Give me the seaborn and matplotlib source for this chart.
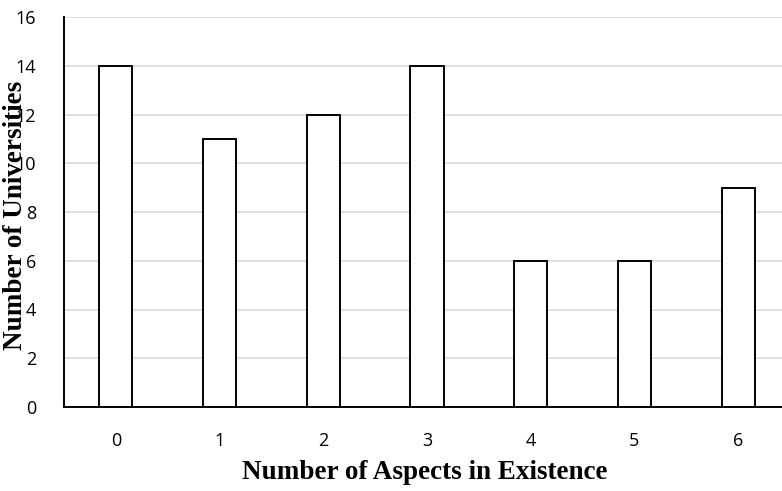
import matplotlib
matplotlib.use("Agg")
import matplotlib.pyplot as plt
import seaborn as sns
import pandas as pd

categories = ["0", "1", "2", "3", "4", "5", "6"]
universities = [14, 11, 12, 14, 6, 6, 9]
y_ticks = [0, 2, 4, 6, 8, 10, 12, 14, 16]

sns.set_theme(style="white")
plt.rcParams['font.family'] = ['Open Sans', 'DejaVu Sans']
plt.rcParams['text.color'] = 'black'
plt.rcParams['axes.labelcolor'] = 'black'
plt.rcParams['xtick.color'] = 'black'
plt.rcParams['ytick.color'] = 'black'

df = pd.DataFrame({"aspects": categories, "count": universities})

fig = plt.figure(figsize=(7.82, 4.91), dpi=100)
ax = fig.add_axes([64/782, 84/491, 726/782, 390/491])

sns.barplot(data=df, x="aspects", y="count", color="white", edgecolor="black",
            linewidth=1.4, width=0.32, ax=ax, zorder=3, saturation=1)

ax.set_ylim(0, 16)
ax.set_xlim(-0.5, 6.5)
ax.set_yticks(y_ticks)
ax.set_yticklabels([str(t) for t in y_ticks], fontsize=13)
ax.tick_params(axis="x", labelsize=13, length=0, pad=18)
ax.tick_params(axis="y", length=0, pad=20)
ax.grid(axis="y", color="#d9d9d9", linewidth=1.2, zorder=0)
ax.set_axisbelow(True)

for s in ["top", "right"]:
    ax.spines[s].set_visible(False)
for s in ["left", "bottom"]:
    ax.spines[s].set_color("black")
    ax.spines[s].set_linewidth(1.4)
    ax.spines[s].set_zorder(4)

ax.set_xlabel("Number of Aspects in Existence", fontsize=19.5, fontweight="bold",
              family="Liberation Serif", color="black")
ax.xaxis.set_label_coords((425 - 64) / 726, (407 - 460) / 390)
ax.set_ylabel("Number of Universities", fontsize=19.5, fontweight="bold",
              family="Liberation Serif", color="black")
ax.yaxis.set_label_coords((28 - 64) / 726, (407 - 215) / 390)

fig.savefig("out.png", dpi=100)
